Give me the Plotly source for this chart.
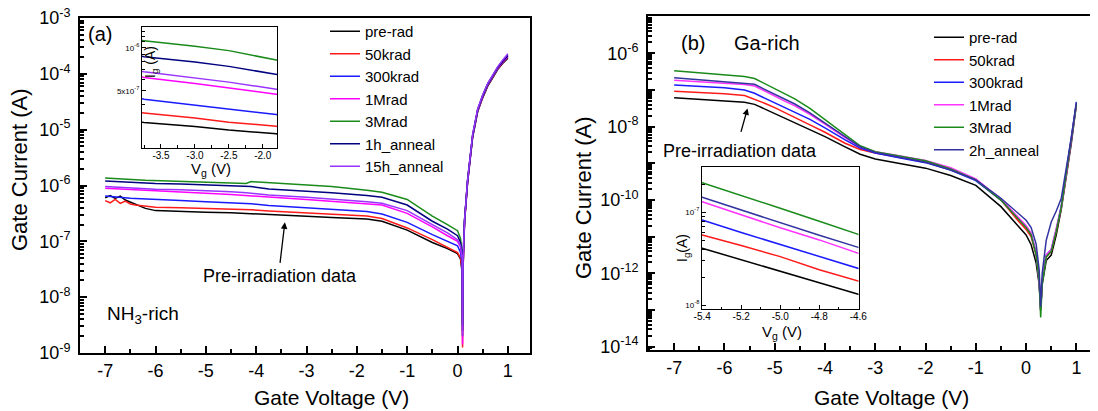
import plotly.graph_objects as go

# The page body adds an 8 px margin, so the figure is 8 px smaller than the window
OFF = 8
W, H = 1098 - OFF, 411 - OFF
FONT = "Liberation Sans, Arial, Helvetica, sans-serif"

# ---------------- Panel (a): NH3-rich, gate voltage (V) ----------------
va = [-7.0, -6.9, -6.8, -6.7, -6.6, -6.5, -6.4, -6.3, -6.2, -6.0, -5.5, -5.0, -4.5, -4.2, -4.1,
      -3.75, -3.0, -2.5, -1.8, -1.5, -1.0, -0.5, -0.2, 0.0, 0.06, 0.09, 0.1, 0.11,
      0.14, 0.2, 0.3, 0.4, 0.5, 0.6, 0.7, 0.8, 0.9, 1.0]

# log10 of gate current (A)
a_pre = [-6.22, -6.18, -6.23, -6.19, -6.26, -6.30, -6.33, -6.37, -6.41, -6.45, -6.47, -6.48, -6.49, -6.50, -6.505,
         -6.522, -6.55, -6.575, -6.60, -6.64, -6.80, -7.02, -7.13, -7.22, -7.32, -7.55, -8.70, -7.50,
         -6.66, -5.95, -5.14, -4.68, -4.43, -4.22, -4.07, -3.92, -3.81, -3.72]
a_50k = [-6.27, -6.31, -6.25, -6.32, -6.28, -6.33, -6.35, -6.36, -6.38, -6.39, -6.40, -6.41, -6.42, -6.43, -6.435,
         -6.455, -6.49, -6.52, -6.548, -6.59, -6.76, -6.97, -7.10, -7.20, -7.30, -7.50, -8.90, -7.50,
         -6.65, -5.94, -5.13, -4.67, -4.42, -4.21, -4.06, -3.91, -3.80, -3.70]
a_300k = [-6.19, -6.20, -6.21, -6.22, -6.225, -6.23, -6.235, -6.24, -6.245, -6.255, -6.27, -6.29, -6.31, -6.32, -6.325,
          -6.359, -6.40, -6.43, -6.466, -6.51, -6.66, -6.88, -7.00, -7.08, -7.20, -7.40, -8.50, -7.45,
          -6.64, -5.93, -5.12, -4.66, -4.41, -4.20, -4.05, -3.90, -3.79, -3.69]
a_1M = [-6.05, -6.055, -6.06, -6.065, -6.07, -6.075, -6.08, -6.085, -6.09, -6.10, -6.12, -6.14, -6.16, -6.175, -6.18,
        -6.207, -6.25, -6.28, -6.324, -6.35, -6.50, -6.74, -6.90, -7.00, -7.10, -7.30, -8.85, -7.40,
        -6.63, -5.92, -5.11, -4.65, -4.40, -4.19, -4.04, -3.89, -3.78, -3.68]
a_3M = [-5.867, -5.87, -5.875, -5.88, -5.885, -5.89, -5.895, -5.90, -5.905, -5.91, -5.925, -5.94, -5.955, -5.965, -5.93,
        -5.951, -5.99, -6.02, -6.086, -6.12, -6.25, -6.55, -6.70, -6.81, -6.95, -7.20, -8.50, -7.30,
        -6.61, -5.90, -5.10, -4.64, -4.39, -4.18, -4.03, -3.88, -3.76, -3.66]
a_1h = [-5.92, -5.925, -5.93, -5.935, -5.94, -5.945, -5.95, -5.955, -5.96, -5.965, -5.975, -5.99, -6.005, -6.015, -6.02,
        -6.063, -6.10, -6.13, -6.179, -6.21, -6.35, -6.64, -6.78, -6.90, -7.02, -7.25, -8.60, -7.30,
        -6.62, -5.91, -5.10, -4.64, -4.39, -4.18, -4.03, -3.88, -3.77, -3.67]
a_15h = [-6.02, -6.025, -6.03, -6.035, -6.04, -6.045, -6.05, -6.055, -6.06, -6.065, -6.075, -6.09, -6.11, -6.13, -6.14,
         -6.168, -6.21, -6.24, -6.289, -6.32, -6.45, -6.70, -6.85, -6.97, -7.08, -7.30, -8.70, -7.35,
         -6.62, -5.90, -5.09, -4.63, -4.38, -4.17, -4.02, -3.87, -3.75, -3.64]

names_a = ["pre-rad", "50krad", "300krad", "1Mrad", "3Mrad", "1h_anneal", "15h_anneal"]
colors_a = ["#000000", "#ff1a1a", "#1a1aff", "#ff00ff", "#1a8a1a", "#000080", "#9933ff"]
logs_a = [a_pre, a_50k, a_300k, a_1M, a_3M, a_1h, a_15h]

# ---------------- Panel (b): Ga-rich ----------------
vb = [-7.0, -6.5, -6.0, -5.6, -5.4, -5.2, -5.0, -4.8, -4.6, -4.3, -4.0, -3.6, -3.3, -3.0, -2.5, -2.0,
      -1.5, -1.0, -0.5, -0.2, 0.0, 0.1, 0.2, 0.26, 0.29, 0.32, 0.4, 0.5, 0.6, 0.7, 0.8, 0.9, 1.0]

b_pre = [-7.21, -7.25, -7.29, -7.33, -7.39, -7.516, -7.64, -7.76, -7.885, -8.07, -8.27, -8.55, -8.75, -8.88, -9.00, -9.13,
         -9.33, -9.60, -10.18, -10.65, -10.95, -11.22, -11.72, -12.30, -13.00, -12.30, -11.65, -11.50, -10.95, -10.25, -9.35, -8.45, -7.40]
b_50k = [-7.03, -7.06, -7.10, -7.15, -7.247, -7.36, -7.48, -7.62, -7.756, -7.95, -8.15, -8.45, -8.62, -8.72, -8.84, -8.95,
         -9.15, -9.45, -10.00, -10.50, -10.80, -11.00, -11.50, -12.20, -13.00, -12.20, -11.55, -11.40, -10.85, -10.20, -9.30, -8.40, -7.38]
b_300k = [-6.864, -6.90, -6.94, -7.00, -7.086, -7.22, -7.35, -7.48, -7.606, -7.80, -8.03, -8.36, -8.58, -8.72, -8.85, -8.98,
          -9.18, -9.47, -10.00, -10.45, -10.72, -10.92, -11.45, -12.20, -13.00, -12.20, -11.50, -11.35, -10.80, -10.15, -9.25, -8.35, -7.35]
b_1M = [-6.73, -6.77, -6.81, -6.85, -6.889, -7.03, -7.17, -7.30, -7.43, -7.66, -7.93, -8.30, -8.55, -8.68, -8.80, -8.92,
        -9.12, -9.42, -9.97, -10.40, -10.70, -10.90, -11.45, -12.20, -13.00, -12.20, -11.50, -11.35, -10.80, -10.20, -9.30, -8.40, -7.40]
b_3M = [-6.47, -6.53, -6.58, -6.63, -6.685, -6.82, -6.96, -7.10, -7.24, -7.50, -7.80, -8.20, -8.52, -8.68, -8.80, -8.93,
        -9.15, -9.45, -10.00, -10.45, -10.75, -10.95, -11.50, -12.20, -13.20, -12.30, -11.55, -11.40, -10.85, -10.20, -9.30, -8.40, -7.40]
b_2h = [-6.665, -6.72, -6.77, -6.81, -6.842, -6.98, -7.12, -7.25, -7.38, -7.62, -7.90, -8.28, -8.55, -8.70, -8.83, -8.97,
        -9.18, -9.45, -9.95, -10.30, -10.55, -10.75, -11.20, -11.90, -12.90, -12.00, -11.10, -10.60, -10.30, -9.95, -9.15, -8.30, -7.32]

names_b = ["pre-rad", "50krad", "300krad", "1Mrad", "3Mrad", "2h_anneal"]
colors_b = ["#000000", "#ff1a1a", "#1a1aff", "#ff33ff", "#1a8a1a", "#3333a0"]
logs_b = [b_pre, b_50k, b_300k, b_1M, b_3M, b_2h]

x_ticks = [-7, -6, -5, -4, -3, -2, -1, 0, 1]


def px(x):
    return (x - OFF) / W


def py(y):
    return 1 - (y - OFF) / H


def sup(e):
    return "10<sup>%d</sup>" % e


fig = go.Figure()

for name, logs, col in zip(names_a, logs_a, colors_a):
    cur = [10 ** v for v in logs]
    fig.add_trace(go.Scatter(x=va, y=cur, mode="lines", name=name, legend="legend",
                             line=dict(color=col, width=1.5), xaxis="x", yaxis="y"))
    fig.add_trace(go.Scatter(x=va, y=cur, mode="lines", showlegend=False,
                             line=dict(color=col, width=1.5), xaxis="x2", yaxis="y2"))

for name, logs, col in zip(names_b, logs_b, colors_b):
    cur = [10 ** v for v in logs]
    fig.add_trace(go.Scatter(x=vb, y=cur, mode="lines", name=name, legend="legend2",
                             line=dict(color=col, width=1.5), xaxis="x3", yaxis="y3"))
    fig.add_trace(go.Scatter(x=vb, y=cur, mode="lines", showlegend=False,
                             line=dict(color=col, width=1.5), xaxis="x4", yaxis="y4"))

main_ax = dict(showline=True, linewidth=2, linecolor="black", mirror=True, ticks="inside",
               ticklen=7, tickwidth=1.5, tickcolor="black", showgrid=False, zeroline=False,
               tickfont=dict(size=18, color="black"), automargin=False, ticklabeloverflow="allow")
inset_ax = dict(showline=True, linewidth=1.3, linecolor="black", mirror=True, ticks="inside",
                ticklen=4, tickwidth=1, tickcolor="black", showgrid=False, zeroline=False,
                automargin=False, ticklabeloverflow="allow")

xminor = dict(tickmode="array", tickvals=[k + 0.5 for k in range(-8, 1)], ticks="inside",
              ticklen=4, tickwidth=1.5, tickcolor="black")

fig.update_layout(
    width=W, height=H, margin=dict(l=0, r=0, t=0, b=0),
    paper_bgcolor="white", plot_bgcolor="white",
    font=dict(family=FONT, color="black"),
    xaxis=dict(main_ax, domain=[px(80), px(530)], range=[-7.5, 1.44], anchor="y",
               tickmode="array", tickvals=x_ticks, ticktext=[str(t) for t in x_ticks],
               minor=xminor, ticklabelstandoff=0),
    yaxis=dict(main_ax, domain=[py(353), py(18)], type="log", range=[-9.0005, -2.9995], anchor="x",
               tickmode="array", tickvals=[10.0 ** e for e in range(-9, -2)],
               ticktext=[sup(e) for e in range(-9, -2)],
               minor=dict(tickmode="array", tickvals=[m * 10.0 ** e for e in range(-9, -3) for m in range(2, 10)],
                          ticks="inside", ticklen=4, tickwidth=1.5, tickcolor="black"),
               ticklabelstandoff=4),
    xaxis2=dict(inset_ax, domain=[px(142), px(277)], range=[-3.78, -1.79], anchor="y2",
                tickmode="array", tickvals=[-3.5, -3.0, -2.5, -2.0],
                ticktext=["-3.5", "-3.0", "-2.5", "-2.0"], tickfont=dict(size=10),
                ticklabelstandoff=-2,
                minor=dict(tickmode="array", tickvals=[-3.75, -3.25, -2.75, -2.25], ticks="inside",
                           ticklen=2.5, tickcolor="black")),
    yaxis2=dict(inset_ax, domain=[py(148), py(27)], type="log", range=[-6.70, -5.855], anchor="x2",
                tickmode="array", tickvals=[5e-7, 1e-6], ticktext=["5x10<sup>-7</sup>", "10<sup>-6</sup>"],
                tickfont=dict(size=8),
                minor=dict(tickmode="array", tickvals=[k * 1e-7 for k in (2, 3, 4, 6, 7, 8, 9, 11, 12, 13)],
                           ticks="inside", ticklen=2.5, tickcolor="black")),
    xaxis3=dict(main_ax, domain=[px(648), 1.0], range=[-7.52, 1.43], anchor="y3",
                tickmode="array", tickvals=x_ticks, ticktext=[str(t) for t in x_ticks],
                minor=xminor, ticklabelstandoff=0),
    yaxis3=dict(main_ax, domain=[py(350), py(16)], type="log", range=[-14.09, -4.98], anchor="x3",
                tickmode="array", tickvals=[10.0 ** e for e in range(-14, -4)],
                ticktext=[sup(e) if e % 2 == 0 else "" for e in range(-14, -4)],
                minor=dict(tickmode="array", tickvals=[m * 10.0 ** e for e in range(-15, -4) for m in range(2, 10)],
                           ticks="inside", ticklen=4, tickwidth=1.5, tickcolor="black"),
                ticklabelstandoff=4),
    xaxis4=dict(inset_ax, domain=[px(702), px(858.5)], range=[-5.401, -4.599], anchor="y4",
                tickmode="array", tickvals=[-5.4, -5.2, -5.0, -4.8, -4.6],
                ticktext=["-5.4", "-5.2", "-5.0", "-4.8", "-4.6"], tickfont=dict(size=10),
                ticklabelstandoff=-2,
                minor=dict(tickmode="array", tickvals=[-5.3, -5.1, -4.9, -4.7], ticks="inside",
                           ticklen=2.5, tickcolor="black")),
    yaxis4=dict(inset_ax, domain=[py(309.3), py(166.7)], type="log", range=[-8.046, -6.513], anchor="x4",
                tickmode="array", tickvals=[1e-8, 1e-7], ticktext=[sup(-8), sup(-7)], tickfont=dict(size=8),
                minor=dict(tickmode="array", tickvals=[k * 1e-8 for k in range(2, 10)] + [2e-7, 3e-7],
                           ticks="inside", ticklen=2.5, tickcolor="black")),
    legend=dict(x=px(325), y=py(15), xanchor="left", yanchor="top", bgcolor="rgba(0,0,0,0)",
                font=dict(size=15), tracegroupgap=0, itemwidth=30),
    legend2=dict(x=px(929), y=py(21), xanchor="left", yanchor="top", bgcolor="rgba(0,0,0,0)",
                 font=dict(size=15), tracegroupgap=0, itemwidth=30),
)

ann = [
    dict(text="Gate Voltage (V)", x=px(331), y=py(397), font=dict(size=21)),
    dict(text="Gate Current (A)", x=px(19), y=py(170), textangle=-90, font=dict(size=22)),
    dict(text="Gate Voltage (V)", x=px(891), y=py(397), font=dict(size=21)),
    dict(text="Gate Current (A)", x=px(583), y=py(197), textangle=-90, font=dict(size=22)),
    dict(text="(a)", x=px(100), y=py(34), font=dict(size=20)),
    dict(text="NH<sub>3</sub>-rich", x=px(105), y=py(315), xanchor="left", font=dict(size=19)),
    dict(text="Pre-irradiation data", x=px(280), y=py(276), font=dict(size=18)),
    dict(text="(b)", x=px(693), y=py(43), font=dict(size=20)),
    dict(text="Ga-rich", x=px(732), y=py(43), xanchor="left", font=dict(size=20)),
    dict(text="Pre-irradiation data", x=px(740), y=py(151), font=dict(size=18)),
    dict(text="I<sub>g</sub> (A)", x=px(151), y=py(62), textangle=-90, font=dict(size=14)),
    dict(text="V<sub>g</sub> (V)", x=px(211), y=py(169), font=dict(size=15)),
    dict(text="I<sub>g</sub>(A)", x=px(683), y=py(248), textangle=-90, font=dict(size=14)),
    dict(text="V<sub>g</sub> (V)", x=px(782), y=py(332), font=dict(size=15)),
]
for a in ann:
    a.setdefault("xanchor", "center")
    a.update(xref="paper", yref="paper", yanchor="middle", showarrow=False)
    fig.add_annotation(**a)

fig.add_annotation(x=-3.43, y=-6.66, xref="x", yref="y", text="", showarrow=True,
                   ax=-5, ay=42, arrowhead=2, arrowsize=1, arrowwidth=1.3, arrowcolor="black", standoff=0)
fig.add_annotation(x=-5.54, y=-7.50, xref="x3", yref="y3", text="", showarrow=True,
                   ax=-7, ay=25, arrowhead=2, arrowsize=1, arrowwidth=1.3, arrowcolor="black", standoff=0)

fig.write_html("out.html")
